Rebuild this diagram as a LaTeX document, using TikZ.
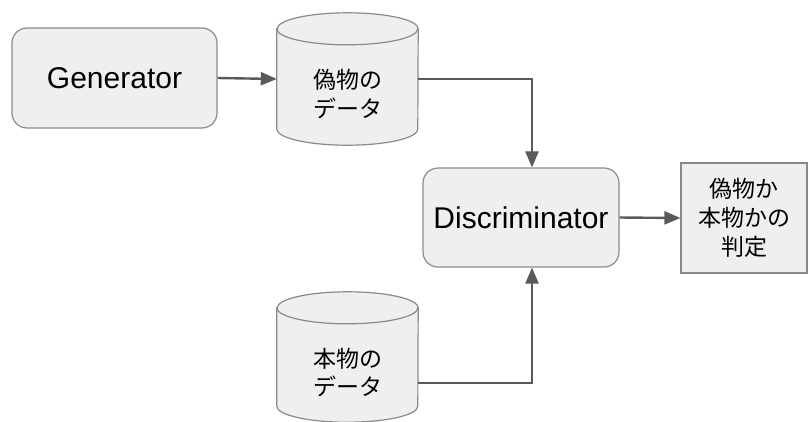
\documentclass[tikz,border=0pt]{standalone}
\usepackage{fontspec}
\setmainfont{Liberation Sans}
\newfontfamily\jpfont{Noto Sans CJK JP}
\usetikzlibrary{arrows.meta,calc}
\definecolor{boxfill}{HTML}{EFEFEF}
\definecolor{boxline}{HTML}{8A8A8A}
\definecolor{arrowcol}{HTML}{5A5A5A}
\tikzset{
  roundbox/.style={draw=boxline, fill=boxfill, line width=1.2pt, rounded corners=15pt, inner sep=0pt, font=\fontsize{30}{34}\selectfont},
  squarebox/.style={draw=boxline, fill=boxfill, line width=1.2pt, inner sep=0pt, align=center, font=\jpfont\fontsize{23}{29}\selectfont},
  cylbody/.style={draw=boxline, fill=boxfill, line width=1.2pt},
  cylhold/.style={inner sep=0pt, minimum width=141pt},
  jptext/.style={inner sep=0pt, align=center, font=\jpfont\fontsize{23}{28.5}\selectfont},
  conn/.style={draw=arrowcol, line width=2.4pt, -{Triangle[length=16pt,width=13pt]}},
}
\begin{document}
\begin{tikzpicture}[x=1pt,y=-1pt]
\useasboundingbox (0,0) rectangle (808,421);

% Generator
\node[roundbox, minimum width=205pt, minimum height=100pt] (gen) at (114.5,78) {Generator};

% fake data cylinder
\node[cylhold, minimum height=132pt] (fake) at (347.5,79) {};
\path[cylbody] ([yshift=-16pt]fake.north west) -- ([yshift=16pt]fake.south west)
  arc[start angle=180,end angle=360,x radius=70.5pt,y radius=16pt]
  -- ([yshift=-16pt]fake.north east)
  arc[start angle=0,end angle=180,x radius=70.5pt,y radius=16pt] -- cycle;
\draw[boxline, line width=1.2pt] ([yshift=-16pt]fake.north west)
  arc[start angle=180,end angle=360,x radius=70.5pt,y radius=16pt];
\node[jptext] (faketext) at (347.5,94) {偽物の\\データ};

% real data cylinder
\node[cylhold, minimum height=130pt] (real) at (347.5,357) {};
\path[cylbody] ([yshift=-16pt]real.north west) -- ([yshift=16pt]real.south west)
  arc[start angle=180,end angle=360,x radius=70.5pt,y radius=16pt]
  -- ([yshift=-16pt]real.north east)
  arc[start angle=0,end angle=180,x radius=70.5pt,y radius=16pt] -- cycle;
\draw[boxline, line width=1.2pt] ([yshift=-16pt]real.north west)
  arc[start angle=180,end angle=360,x radius=70.5pt,y radius=16pt];
\node[jptext] (realtext) at (347.5,372.5) {本物の\\データ};

% Discriminator
\node[roundbox, minimum width=196pt, minimum height=99pt] (disc) at (521,217.5) {Discriminator};

% Judgement
\node[squarebox, minimum width=126pt, minimum height=110pt] (judge) at (744,218) {偽物か\\本物かの\\判定};

% connectors
\draw[conn] (gen.east) -- (fake.west);
\draw[conn] (fake.east) -| ([xshift=11pt]disc.north);
\draw[conn] ([yshift=-26pt]real.east) -| ([xshift=11pt]disc.south);
\draw[conn] (disc.east) -- (judge.west);
\end{tikzpicture}
\end{document}
